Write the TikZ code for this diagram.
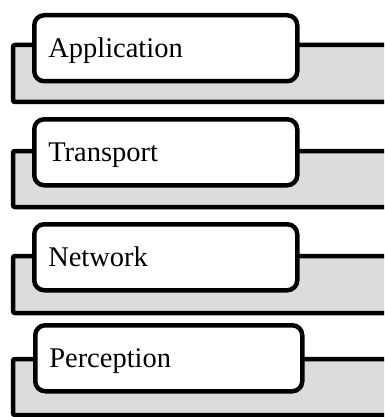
\documentclass[tikz,border=0pt]{standalone}
\usepackage{fontspec}
\setmainfont{Liberation Serif}
\definecolor{layergrey}{HTML}{DCDCDC}
\begin{document}
\begin{tikzpicture}[x=1pt,y=-1pt,
  layerback/.style={draw=black,fill=layergrey,line width=4.5pt,rounded corners=2pt},
  tab/.style={draw=black,fill=white,line width=4.5pt,rounded corners=10pt,
    anchor=north west,minimum height=66pt,text width=235pt,inner xsep=14pt,
    align=left,text height=19pt,text depth=0pt,font=\fontsize{28.5}{30}\selectfont}]
\useasboundingbox (0,0) rectangle (384,417);
\clip (0,0) rectangle (384,417);
% back panels
\draw[layerback] (13,45) rectangle (400,102);
\draw[layerback] (13,151) rectangle (400,207);
\draw[layerback] (13,256) rectangle (400,313);
\draw[layerback] (13,359) rectangle (400,415);
% tabs
\node[tab] (app) at (32,13) {Application};
\node[tab] (trans) at (32,117) {Transport};
\node[tab] (net) at (32,222) {Network};
\node[tab,text width=239pt] (perc) at (33,323) {Perception};
\end{tikzpicture}
\end{document}
